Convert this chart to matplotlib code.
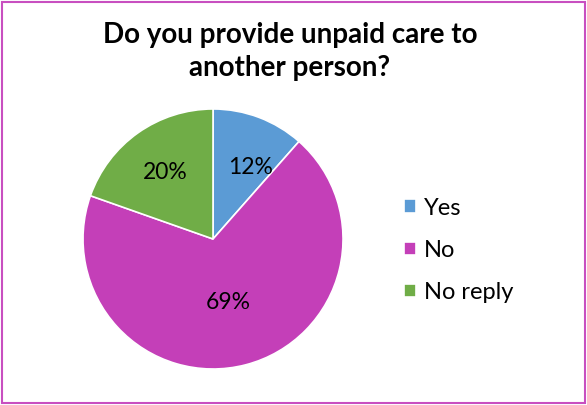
import matplotlib
matplotlib.use("Agg")
import matplotlib.pyplot as plt
import numpy as np
from matplotlib.patches import Rectangle

title = "Do you provide unpaid care to\nanother person?"
categories = ["Yes", "No", "No reply"]
values = [11.5, 68.9, 19.6]
colors = ["#5B9BD5", "#C43FB8", "#70AD47"]
# label placement (radius fraction, angle in degrees)
label_dist = [0.62, 0.50, 0.63]
label_ang = [62.5, -76.5, 126.0]

plt.rcParams['font.family'] = ['Lato', 'DejaVu Sans']

fig = plt.figure(figsize=(5.87, 4.05), dpi=100)
ax = fig.add_axes([0.1414, 0.0889, 0.443, 0.642])

wedges, texts, autotexts = ax.pie(
    values, colors=colors, startangle=90, counterclock=False,
    autopct='%.0f%%', pctdistance=0.6,
    wedgeprops=dict(edgecolor='white', linewidth=1.2),
    textprops=dict(fontsize=16.5, color='black'))
for t, d, a in zip(autotexts, label_dist, label_ang):
    ang = np.deg2rad(a)
    t.set_position((d * np.cos(ang), d * np.sin(ang)))
ax.set_aspect('equal')
ax.set_xlim(-1, 1)
ax.set_ylim(-1, 1)

fig.text(0.494, 0.873, title, ha='center', va='center', fontsize=20,
         fontweight='bold', linespacing=1.3)

fig.legend(wedges, categories, loc='center left', bbox_to_anchor=(0.688, 0.382),
           frameon=False, fontsize=17, handlelength=0.5, handleheight=0.5,
           handletextpad=0.35, labelspacing=0.9, borderpad=0, borderaxespad=0)

fig.patches.append(Rectangle((0.003, 0.004), 0.994, 0.992, transform=fig.transFigure,
                             fill=False, edgecolor='#C84FC0', linewidth=1.5))

fig.savefig("out.png", dpi=100)
